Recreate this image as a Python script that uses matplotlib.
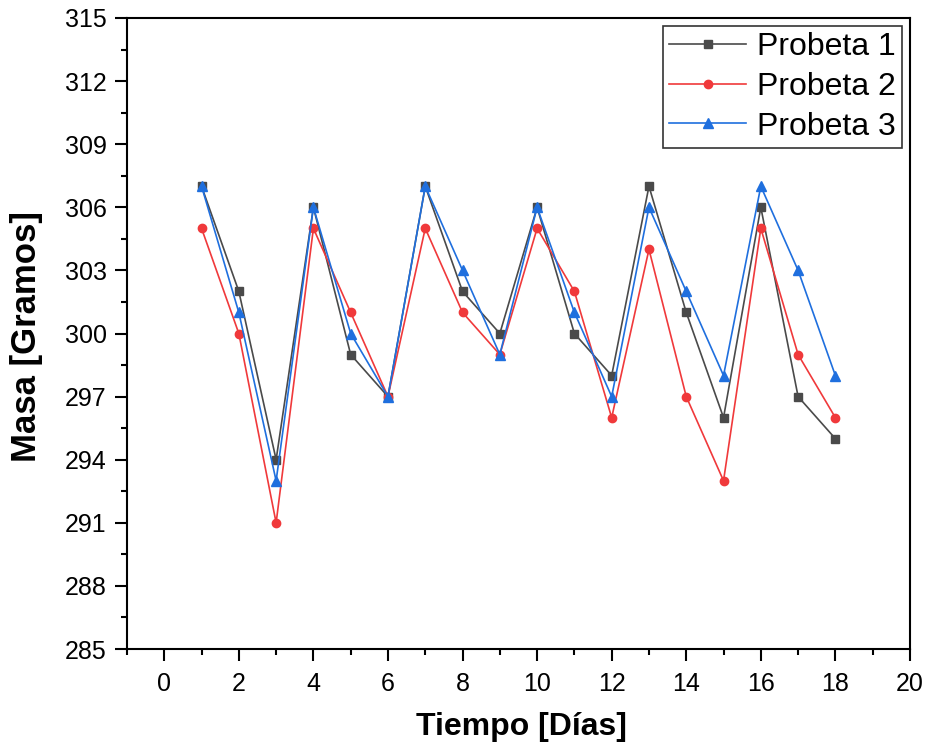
import matplotlib
matplotlib.use("Agg")
import matplotlib.pyplot as plt
from matplotlib.ticker import MultipleLocator

plt.rcParams['font.family'] = ['Liberation Sans', 'DejaVu Sans']

dias = list(range(1, 19))
probeta1 = [307, 302, 294, 306, 299, 297, 307, 302, 300, 306, 300, 298, 307, 301, 296, 306, 297, 295]
probeta2 = [305, 300, 291, 305, 301, 297, 305, 301, 299, 305, 302, 296, 304, 297, 293, 305, 299, 296]
probeta3 = [307, 301, 293, 306, 300, 297, 307, 303, 299, 306, 301, 297, 306, 302, 298, 307, 303, 298]
labels = ["Probeta 1", "Probeta 2", "Probeta 3"]

fig = plt.figure(figsize=(9.33, 7.53), dpi=100)
ax = fig.add_axes([0.1361, 0.1381, 0.8392, 0.8380])

ax.plot(dias, probeta1, color='#4a4a4a', marker='s', markersize=6, lw=1.2, label=labels[0])
ax.plot(dias, probeta2, color='#f0393b', marker='o', markersize=6, lw=1.2, label=labels[1])
ax.plot(dias, probeta3, color='#1f6fde', marker='^', markersize=7, lw=1.2, label=labels[2])

ax.set_xlim(-1, 20)
ax.set_ylim(285, 315)
ax.xaxis.set_major_locator(MultipleLocator(2))
ax.xaxis.set_minor_locator(MultipleLocator(1))
ax.yaxis.set_major_locator(MultipleLocator(3))
ax.yaxis.set_minor_locator(MultipleLocator(1.5))
ax.tick_params(which='major', direction='out', length=8.5, width=1.5, labelsize=18,
               top=False, right=False)
ax.tick_params(axis='x', which='major', pad=8)
ax.tick_params(axis='y', which='major', pad=6)
ax.tick_params(which='minor', direction='out', length=4.3, width=1.5, top=False, right=False)
for s in ax.spines.values():
    s.set_linewidth(1.5)

ax.set_xlabel("Tiempo [Días]", fontsize=23, fontweight='bold')
ax.set_ylabel("Masa [Gramos]", fontsize=25, fontweight='bold')
ax.xaxis.set_label_coords(0.504, -0.0998)
ax.yaxis.set_label_coords(-0.107, 0.496)

leg = ax.legend(loc='upper right', fontsize=23, frameon=True, fancybox=False,
                edgecolor='black', handlelength=2.4, borderpad=0.2, labelspacing=0.3,
                handletextpad=0.33, borderaxespad=0.25)
leg.get_frame().set_linewidth(1.2)

fig.savefig("out.png", dpi=100)
